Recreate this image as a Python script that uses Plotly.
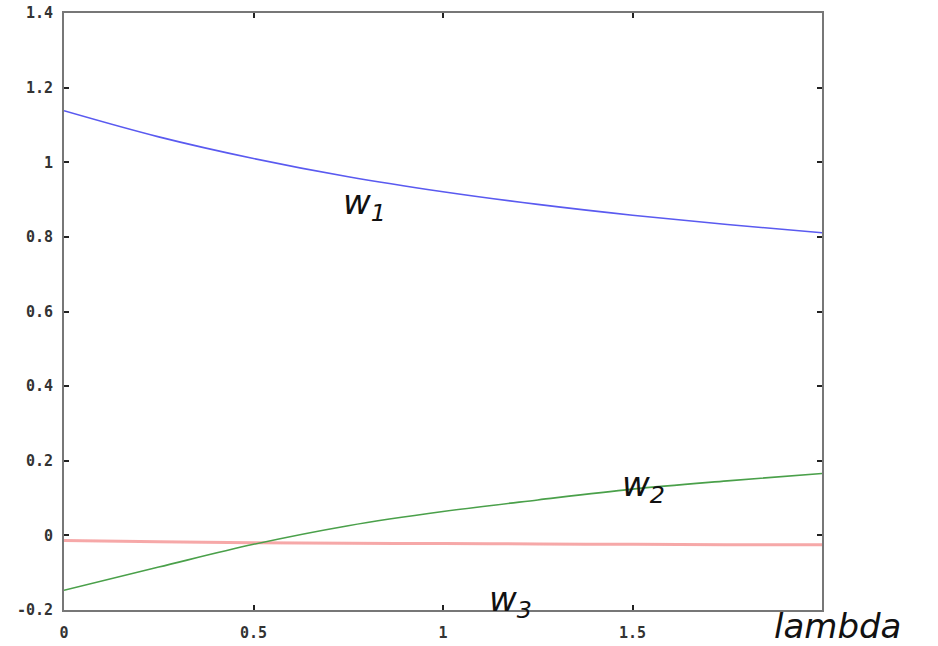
import plotly.graph_objects as go

lambdas = [0, 0.25, 0.5, 0.75, 1.0, 1.25, 1.5, 1.75, 2.0]
w1 = [1.138, 1.068, 1.010, 0.961, 0.921, 0.887, 0.858, 0.833, 0.811]
w2 = [-0.147, -0.085, -0.024, 0.026, 0.064, 0.095, 0.124, 0.146, 0.166]
w3 = [-0.014, -0.017, -0.020, -0.021, -0.022, -0.023, -0.024, -0.025, -0.025]

x_ticks = [0, 0.5, 1, 1.5]
x_ticktext = ["0", "0.5", "1", "1.5"]
y_ticks = [-0.2, 0, 0.2, 0.4, 0.6, 0.8, 1, 1.2, 1.4]
y_ticktext = ["-0.2", "0", "0.2", "0.4", "0.6", "0.8", "1", "1.2", "1.4"]

fig = go.Figure()
fig.add_trace(go.Scatter(x=lambdas, y=w3, mode="lines", line=dict(color="rgba(240,110,110,0.6)", width=3, shape="spline")))
fig.add_trace(go.Scatter(x=lambdas, y=w2, mode="lines", line=dict(color="#4aa04a", width=1.6, shape="spline")))
fig.add_trace(go.Scatter(x=lambdas, y=w1, mode="lines", line=dict(color="#5a5af0", width=1.6, shape="spline")))

lab_font = dict(family="DejaVu Sans", size=34, color="#111111")
fig.add_annotation(x=0.792, y=0.886, text="<i>w<sub>1</sub></i>", showarrow=False, font=lab_font)
fig.add_annotation(x=1.528, y=0.132, text="<i>w<sub>2</sub></i>", showarrow=False, font=lab_font)
fig.add_annotation(x=1.177, y=-0.178, text="<i>w<sub>3</sub></i>", showarrow=False, font=lab_font)
fig.add_annotation(x=1.0198, y=-0.0268, xref="paper", yref="paper", xanchor="center", yanchor="middle",
                   text="<i>lambda</i>", showarrow=False,
                   font=dict(family="DejaVu Sans", size=34, color="#111111"))

axis_common = dict(showgrid=False, zeroline=False, showline=True, linecolor="#777777", linewidth=2,
                   mirror="ticks", ticks="inside", ticklen=5, tickwidth=1.5, tickcolor="#222222",
                   automargin=False,
                   tickfont=dict(family="DejaVu Sans Mono", size=15, color="#333333", weight="bold"))

fig.update_layout(
    width=938, height=646,
    margin=dict(l=64, r=116, t=13, b=36),
    plot_bgcolor="white", paper_bgcolor="white",
    showlegend=False,
    xaxis=dict(range=[0, 2], tickvals=x_ticks, ticktext=x_ticktext, ticklabelstandoff=8, **axis_common),
    yaxis=dict(range=[-0.2, 1.4], tickvals=y_ticks, ticktext=y_ticktext, ticklabelstandoff=6, **axis_common),
)
fig.write_html("out.html", config={"displayModeBar": False},
               post_script="document.body.style.margin='0';document.body.style.overflow='hidden';")
